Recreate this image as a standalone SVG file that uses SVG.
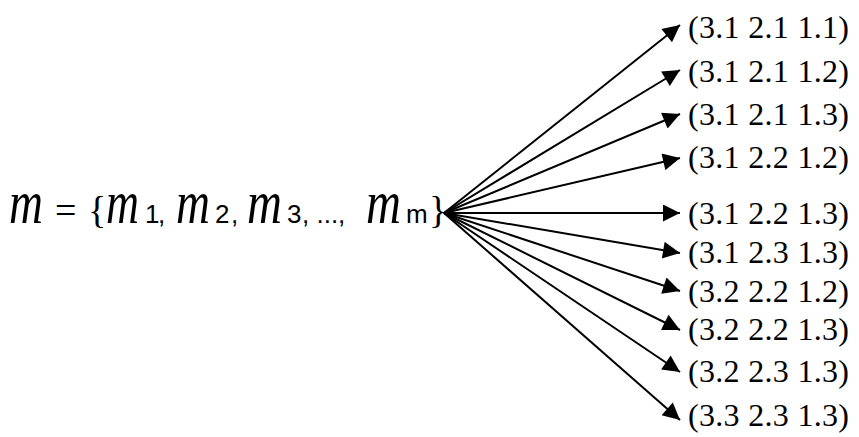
<svg xmlns="http://www.w3.org/2000/svg" width="859" height="437" viewBox="0 0 859 437">
<style>
.f{font-family:"Liberation Sans",sans-serif;font-size:26px;fill:#000}
.m{font-family:"Liberation Serif",serif;font-style:italic;font-size:62px}
.e{font-family:"Liberation Serif",serif;font-size:38px}
.b{font-family:"Liberation Serif",serif;font-size:38px}
.t{font-family:"Liberation Serif",serif;font-size:32px;fill:#000}
.c line{stroke:#000;stroke-width:2}
</style>
<defs>
<marker id="a" viewBox="0 0 10 10" refX="10" refY="5" markerWidth="10" markerHeight="8.5" markerUnits="strokeWidth" orient="auto">
<path d="M0,0 L10,5 L0,10 Z" fill="#000"/>
</marker>
</defs>
<g id="set">
<text class="f" y="223"><tspan class="m" x="9" textLength="34" lengthAdjust="spacingAndGlyphs">m</tspan><tspan class="e" x="55">=</tspan><tspan class="b" x="88">{</tspan><tspan class="m" x="106" textLength="33" lengthAdjust="spacingAndGlyphs">m</tspan><tspan x="145">1</tspan><tspan x="158">,</tspan><tspan class="m" x="176" textLength="34" lengthAdjust="spacingAndGlyphs">m</tspan><tspan x="215">2</tspan><tspan x="231">,</tspan><tspan class="m" x="247" textLength="35" lengthAdjust="spacingAndGlyphs">m</tspan><tspan x="287">3</tspan><tspan x="302">, ...,</tspan><tspan class="m" x="366" textLength="35" lengthAdjust="spacingAndGlyphs">m</tspan><tspan x="406">m</tspan><tspan class="b" x="429">}</tspan></text>
</g>
<g class="c" id="connectors">
<line x1="444" y1="213" x2="680" y2="25" marker-end="url(#a)"/>
<line x1="444" y1="213" x2="680" y2="70" marker-end="url(#a)"/>
<line x1="444" y1="213" x2="680" y2="114" marker-end="url(#a)"/>
<line x1="444" y1="213" x2="680" y2="158" marker-end="url(#a)"/>
<line x1="444" y1="213" x2="680" y2="213" marker-end="url(#a)"/>
<line x1="444" y1="213" x2="680" y2="253" marker-end="url(#a)"/>
<line x1="444" y1="213" x2="680" y2="291" marker-end="url(#a)"/>
<line x1="444" y1="213" x2="680" y2="330" marker-end="url(#a)"/>
<line x1="444" y1="213" x2="680" y2="372" marker-end="url(#a)"/>
<line x1="444" y1="213" x2="680" y2="420" marker-end="url(#a)"/>
</g>
<g id="n1"><text class="t" x="688" y="38" textLength="161" lengthAdjust="spacing">(3.1 2.1 1.1)</text></g>
<g id="n2"><text class="t" x="688" y="82" textLength="161" lengthAdjust="spacing">(3.1 2.1 1.2)</text></g>
<g id="n3"><text class="t" x="688" y="125" textLength="161" lengthAdjust="spacing">(3.1 2.1 1.3)</text></g>
<g id="n4"><text class="t" x="688" y="168" textLength="161" lengthAdjust="spacing">(3.1 2.2 1.2)</text></g>
<g id="n5"><text class="t" x="688" y="224" textLength="161" lengthAdjust="spacing">(3.1 2.2 1.3)</text></g>
<g id="n6"><text class="t" x="688" y="263" textLength="161" lengthAdjust="spacing">(3.1 2.3 1.3)</text></g>
<g id="n7"><text class="t" x="688" y="302" textLength="161" lengthAdjust="spacing">(3.2 2.2 1.2)</text></g>
<g id="n8"><text class="t" x="688" y="340" textLength="161" lengthAdjust="spacing">(3.2 2.2 1.3)</text></g>
<g id="n9"><text class="t" x="688" y="382" textLength="161" lengthAdjust="spacing">(3.2 2.3 1.3)</text></g>
<g id="n10"><text class="t" x="688" y="426" textLength="161" lengthAdjust="spacing">(3.3 2.3 1.3)</text></g>
</svg>
